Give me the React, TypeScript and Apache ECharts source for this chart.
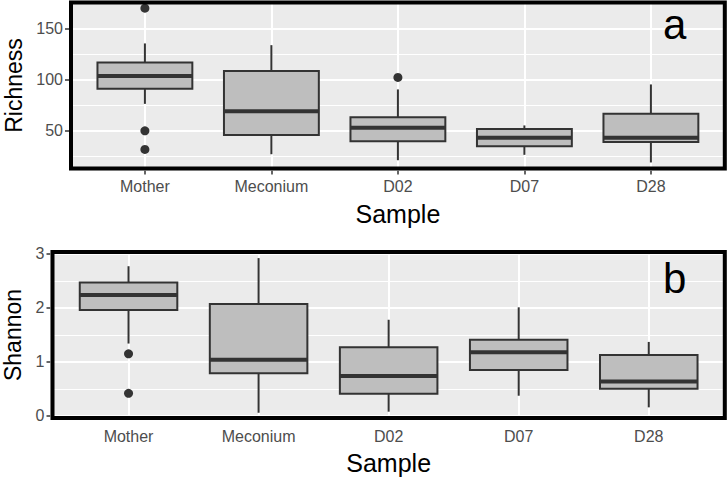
import React, { useEffect, useRef } from "react";
import * as echarts from "echarts";

const categories = ["Mother", "Meconium", "D02", "D07", "D28"];

// Box statistics: [min, q1, median, q3, max]
const richnessBoxes = [
  [76.4, 91.2, 103.9, 117.1, 135.8],
  [26.9, 45.9, 69.2, 108.6, 134.1],
  [21.0, 39.7, 52.8, 63.3, 90.6],
  [26.3, 34.8, 43.0, 51.8, 55.2],
  [18.8, 39.0, 43.2, 66.6, 95.5],
];
// [category index, value]
const richnessOutliers = [
  [0, 170.5],
  [0, 49.9],
  [0, 31.6],
  [2, 102.4],
];

const shannonBoxes = [
  [1.34, 1.96, 2.24, 2.47, 2.77],
  [0.06, 0.79, 1.04, 2.07, 2.92],
  [0.08, 0.41, 0.74, 1.27, 1.78],
  [0.375, 0.85, 1.18, 1.41, 2.01],
  [0.16, 0.505, 0.64, 1.13, 1.37],
];
const shannonOutliers = [
  [0, 1.15],
  [0, 0.42],
];

const richnessMajor = [50, 100, 150];
const richnessMinor = [25, 75, 125, 175];
const shannonMajor = [0, 1, 2, 3];
const shannonMinor = [0.5, 1.5, 2.5];

const FONT = '"Liberation Sans", Arial, sans-serif';

const panels = [
  {
    left: 69, right: 726.8, top: 0.5, bottom: 170.5,
    yMin: 10.9, yMax: 178.0, yName: "Richness", letter: "a",
    boxes: richnessBoxes, outliers: richnessOutliers,
    major: richnessMajor, minor: richnessMinor,
    yNameGap: 45, letterY: 24,
  },
  {
    left: 50.5, right: 726.8, top: 250, bottom: 420,
    yMin: -0.074, yMax: 3.07, yName: "Shannon", letter: "b",
    boxes: shannonBoxes, outliers: shannonOutliers,
    major: shannonMajor, minor: shannonMinor,
    yNameGap: 26.5, letterY: 278.5,
  },
];

function buildOption() {
  const grid: any[] = [];
  const xAxis: any[] = [];
  const yAxis: any[] = [];
  const series: any[] = [];
  const graphic: any[] = [];

  panels.forEach((p, i) => {
    const w = p.right - p.left;
    const h = p.bottom - p.top;
    const band = w / 5.2;
    const a = 2 * i;
    const b = 2 * i + 1;

    grid.push({
      left: p.left, top: p.top, width: w, height: h,
      show: true, backgroundColor: "#EBEBEB", borderWidth: 0,
      containLabel: false, outerBoundsMode: "none",
    });
    grid.push({
      left: p.left + 0.1 * band, top: p.top, width: 5 * band, height: h,
      show: false, containLabel: false, outerBoundsMode: "none",
    });

    xAxis.push({ gridIndex: a, type: "value", min: 0, max: 1, show: false });
    xAxis.push({
      gridIndex: b, type: "category", data: categories, boundaryGap: true,
      axisLine: { show: false },
      axisTick: { show: true, alignWithLabel: true, length: 4, lineStyle: { color: "#333333", width: 1.5 } },
      axisLabel: { color: "#4D4D4D", fontSize: 16, margin: 8, fontFamily: FONT, interval: 0 },
      splitLine: { show: false },
      name: "Sample", nameLocation: "middle", nameGap: 30,
      nameTextStyle: { fontSize: 25, lineHeight: 26, color: "#000000", fontFamily: FONT },
    });

    yAxis.push({
      gridIndex: a, type: "value", min: p.yMin, max: p.yMax,
      axisLine: { show: false },
      axisTick: { show: true, length: 4, customValues: p.major, lineStyle: { color: "#333333", width: 1.5 } },
      axisLabel: { customValues: p.major, color: "#4D4D4D", fontSize: 16, margin: 6, fontFamily: FONT },
      splitLine: { show: false },
      name: p.yName, nameLocation: "middle", nameRotate: 90, nameGap: p.yNameGap,
      nameTextStyle: { fontSize: 23, lineHeight: 20, color: "#000000", fontFamily: FONT },
    });
    yAxis.push({ gridIndex: b, type: "value", min: p.yMin, max: p.yMax, show: false });

    // horizontal grid lines (major + minor)
    series.push({
      type: "line", xAxisIndex: a, yAxisIndex: a, data: [], silent: true,
      markLine: {
        silent: true, symbol: ["none", "none"], z: 1, animation: false,
        label: { show: false },
        lineStyle: { color: "#FFFFFF", type: "solid", width: 2 },
        emphasis: { disabled: true },
        data: [
          ...p.minor.map((v) => ({ yAxis: v, lineStyle: { color: "#FFFFFF", type: "solid", width: 1 } })),
          ...p.major.map((v) => ({ yAxis: v, lineStyle: { color: "#FFFFFF", type: "solid", width: 2 } })),
        ],
      },
    });
    // vertical grid lines at categories
    series.push({
      type: "line", xAxisIndex: b, yAxisIndex: b, data: [], silent: true,
      markLine: {
        silent: true, symbol: ["none", "none"], z: 1, animation: false,
        label: { show: false },
        lineStyle: { color: "#FFFFFF", type: "solid", width: 2 },
        emphasis: { disabled: true },
        data: categories.map((_, k) => ({ xAxis: k })),
      },
    });

    series.push({
      type: "custom", xAxisIndex: b, yAxisIndex: b, z: 3, silent: true,
      data: p.boxes.map((s, k) => [k, ...s]),
      encode: { x: 0, y: [1, 2, 3, 4, 5] },
      renderItem: (params: any, api: any) => {
        const k = api.value(0);
        const mn = api.coord([k, api.value(1)]);
        const q1 = api.coord([k, api.value(2)]);
        const md = api.coord([k, api.value(3)]);
        const q3 = api.coord([k, api.value(4)]);
        const mx = api.coord([k, api.value(5)]);
        const bw = api.size([1, 0])[0];
        const half = (bw * 0.75) / 2;
        const cx = md[0];
        const stroke = "#333333";
        return {
          type: "group",
          children: [
            { type: "line", shape: { x1: cx, y1: q3[1], x2: cx, y2: mx[1] }, style: { stroke, lineWidth: 2 } },
            { type: "line", shape: { x1: cx, y1: q1[1], x2: cx, y2: mn[1] }, style: { stroke, lineWidth: 2 } },
            {
              type: "rect",
              shape: { x: cx - half, y: q3[1], width: 2 * half, height: q1[1] - q3[1] },
              style: { fill: "#BEBEBE", stroke, lineWidth: 2 },
            },
            { type: "line", shape: { x1: cx - half, y1: md[1], x2: cx + half, y2: md[1] }, style: { stroke, lineWidth: 4 } },
          ],
        };
      },
    });

    series.push({
      type: "scatter", xAxisIndex: b, yAxisIndex: b, z: 4, silent: true,
      data: p.outliers, symbol: "circle", symbolSize: 9,
      itemStyle: { color: "#333333", opacity: 1 },
    });

    graphic.push({
      type: "rect", z: 100, silent: true,
      shape: { x: p.left + 2, y: p.top + 2, width: w - 4, height: h - 4 },
      style: { fill: "none", stroke: "#000000", lineWidth: 4 },
    });
    graphic.push({
      type: "text", z: 100, silent: true, x: 663, y: p.letterY,
      style: {
        text: p.letter, fontSize: 42, lineHeight: 30, fontFamily: FONT, fill: "#000000",
        align: "left", verticalAlign: "middle",
      },
    });
  });

  return {
    animation: false,
    backgroundColor: "#FFFFFF",
    textStyle: { fontFamily: FONT },
    grid, xAxis, yAxis, series, graphic,
  };
}

export default function App() {
  const ref = useRef<HTMLDivElement>(null);
  useEffect(() => {
    if (!ref.current) return;
    const chart = echarts.init(ref.current, undefined, { renderer: "svg" });
    chart.setOption(buildOption() as any);
    return () => chart.dispose();
  }, []);
  return (
    <div
      ref={ref}
      style={{ position: "absolute", left: 0, top: 0, width: 728, height: 477 }}
    />
  );
}
